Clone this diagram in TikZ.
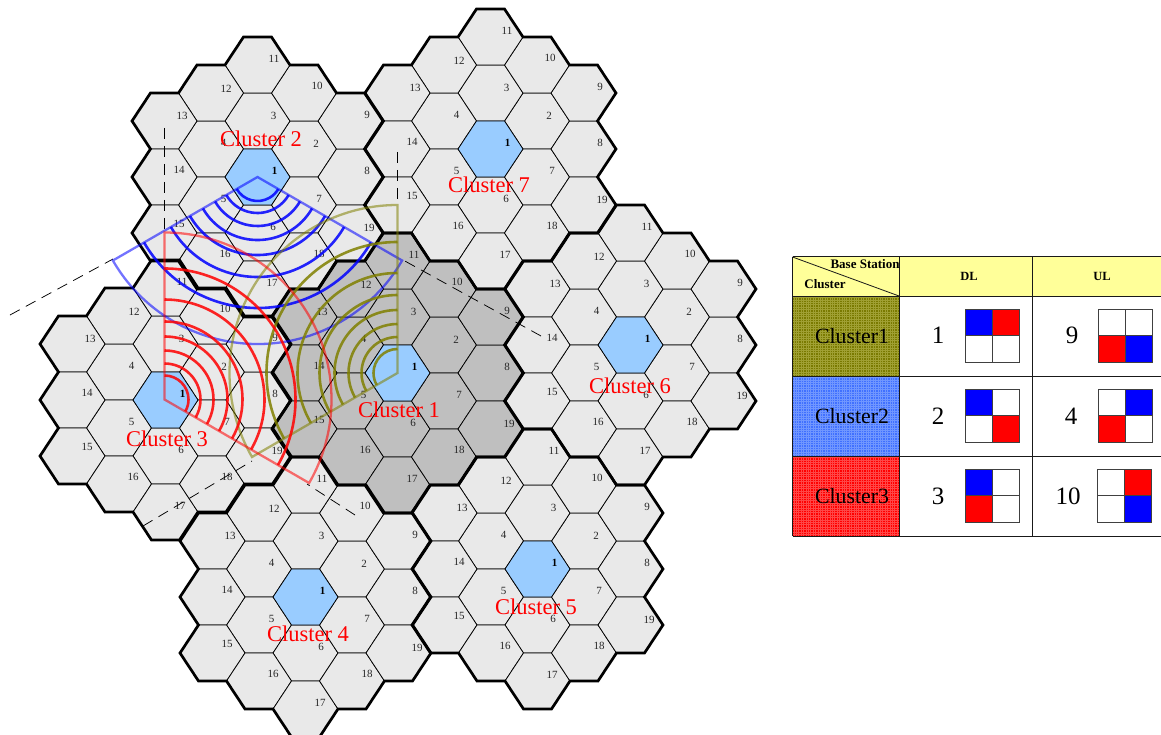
\documentclass[tikz,border=0pt]{standalone}
\usepackage{fontspec}
\setmainfont{Liberation Serif}
\definecolor{cellgray}{HTML}{E9E9E9}
\definecolor{coregray}{HTML}{BFBFBF}
\definecolor{bsblue}{HTML}{99CCFF}
\definecolor{hdryellow}{HTML}{FFFF99}
\definecolor{cOlive}{RGB}{128,128,0}
\definecolor{cBlue}{RGB}{0,0,255}
\definecolor{cRed}{RGB}{255,0,0}
\definecolor{patOlive}{RGB}{122,122,0}
\definecolor{patOliveL}{RGB}{160,160,50}
\definecolor{patBlue}{RGB}{64,112,255}
\definecolor{patBlueL}{RGB}{112,150,255}
\definecolor{patRed}{RGB}{255,0,0}
\definecolor{patRedL}{RGB}{255,70,70}
\newcommand{\hexpath}{(-32.5,0) -- (-14,-28) -- (14,-28) -- (32.5,0) -- (14,28) -- (-14,28) -- cycle}
\newcommand{\clusteroutline}{(14,-140) -- (32.5,-112) -- (60.5,-112) -- (79,-84) -- (107,-84) -- (125.5,-56) -- (107,-28) -- (125.5,0) -- (107,28) -- (125.5,56) -- (107,84) -- (79,84) -- (60.5,112) -- (32.5,112) -- (14,140) -- (-14,140) -- (-32.5,112) -- (-60.5,112) -- (-79,84) -- (-107,84) -- (-125.5,56) -- (-107,28) -- (-125.5,0) -- (-107,-28) -- (-125.5,-56) -- (-107,-84) -- (-79,-84) -- (-60.5,-112) -- (-32.5,-112) -- (-14,-140) -- cycle}
\newcommand{\sectorset}[5]{% apex, start, end, colour, outer
  \foreach \rad in {24,36,49,63,78,100,131}{
    \draw[arcline,#4] (#1) ++(#2:\rad pt) arc[start angle=#2,end angle=#3,radius=\rad pt];
  }
  \draw[sectorline,#4] (#1) -- ++(#2:#5 pt) arc[start angle=#2,end angle=#3,radius=#5 pt] -- cycle;
}
\newcommand{\tablesq}[6]{% x0 y0 colours TL TR BL BR
  \fill[#3] (#1,#2) rectangle ++(26.7,26.7);
  \fill[#4] (#1+26.7,#2) rectangle ++(26.7,26.7);
  \fill[#5] (#1,#2+26.7) rectangle ++(26.7,26.7);
  \fill[#6] (#1+26.7,#2+26.7) rectangle ++(26.7,26.7);
  \draw[sqline] (#1,#2) rectangle ++(53.4,53.4);
  \draw[sqline] (#1+26.7,#2) -- ++(0,53.4);
  \draw[sqline] (#1,#2+26.7) -- ++(53.4,0);
}
\newcommand{\gridcell}[4]{% y0 y1 base light
  \fill[#3] (792.5,#1) rectangle (899,#2);
  \foreach \gx in {794,796.4,...,898}{\draw[#4,line width=.7pt] (\gx,#1) -- (\gx,#2);}
  \pgfmathsetmacro{\ystart}{#1+1.5}
  \pgfmathsetmacro{\ynext}{#1+3.9}
  \foreach \gy in {\ystart,\ynext,...,#2}{\draw[#4,line width=.7pt] (792.5,\gy) -- (899,\gy);}
}
\tikzset{
  hexcell/.style={draw=black,line width=.75pt,line join=miter},
  clusterborder/.style={draw=black,line width=2.7pt,line join=miter},
  cellnum/.style={inner sep=0pt,font=\fontsize{11}{11}\selectfont,text=black!85},
  cellbold/.style={inner sep=0pt,font=\fontsize{11}{11}\selectfont\bfseries,text=black},
  clustername/.style={inner sep=0pt,text=red,font=\fontsize{22.5}{22.5}\selectfont},
  arcline/.style={line width=2.6pt,opacity=.85},
  sectorline/.style={line width=2.3pt,opacity=.55,line join=miter},
  dashline/.style={draw=black,line width=.75pt,dash pattern=on 11pt off 7pt},
  tabline/.style={draw=black!90,line width=1pt},
  sqline/.style={draw=black!75,line width=.8pt},
  hdrtext/.style={inner sep=0pt,font=\fontsize{13}{13}\selectfont\bfseries},
  rowname/.style={inner sep=0pt,font=\fontsize{21.8}{21.8}\selectfont,text=black},
  rownum/.style={inner sep=0pt,font=\fontsize{25}{25}\selectfont}
}
\begin{document}
\begin{tikzpicture}[x=1pt,y=-1pt]
\useasboundingbox (0,0) rectangle (1161,735);
% cells
\foreach \n/\X/\Y/\col in {2/257.5/177/cellgray,7/490.5/149/cellgray,6/630.5/345/cellgray,3/165.5/400/cellgray,1/397.5/373/coregray,5/537.5/569/cellgray,4/305.5/597/cellgray}{
  \begin{scope}[shift={(\X,\Y)}]
    \foreach \c/\r in {0/0,1/-1,0/-2,-1/-1,-1/1,0/2,1/1,2/0,2/-2,1/-3,0/-4,-1/-3,-2/-2,-2/0,-2/2,-1/3,0/4,1/3,2/2}{
      \begin{scope}[shift={({\c*46.5},{\r*28})}]
        \draw[hexcell,fill=\col] \hexpath;
      \end{scope}
    }
    \draw[hexcell,fill=bsblue] \hexpath;
  \end{scope}
}
\foreach \n/\X/\Y in {2/257.5/177,7/490.5/149,6/630.5/345,3/165.5/400,1/397.5/373,5/537.5/569,4/305.5/597}{
  \begin{scope}[shift={(\X,\Y)}]
    \draw[clusterborder] \clusteroutline;
    \node[cellbold] (num\n-1) at (17,-6) {1};
    \foreach \i/\c/\r/\lx/\ly in {2/1/-1/12/-5,3/0/-2/16/-5,4/-1/-1/12.5/-6,5/-1/1/12.5/-6,6/0/2/15.5/-6,7/1/1/15/-6,8/2/0/16.5/-6,9/2/-2/16.5/-6,10/1/-3/13/-7,11/0/-4/16.5/-6,12/-1/-3/15/-4,13/-2/-2/17.5/-5,14/-2/0/14.5/-7,15/-2/2/14.5/-9,16/-1/3/14/-7,17/0/4/14.5/-6,18/1/3/15/-7,19/2/2/18.5/-5}{
      \node[cellnum] (num\n-\i) at ({\c*46.5+\lx},{\r*28+\ly}) {\i};
    }
  \end{scope}
}
% base stations
\coordinate (bsA) at (397.5,373);
\coordinate (bsB) at (257.5,177);
\coordinate (bsC) at (164.5,399.5);
% free ends of the dashed extensions
\coordinate (bsBleft) at (113,259);
\coordinate (bsBleftEnd) at (10,315);
\coordinate (bsBright) at (403,260);
\coordinate (bsBrightEnd) at (541,336);
\coordinate (bsAup) at (397.5,205);
\coordinate (bsAupEnd) at (397.5,152);
\coordinate (bsAlow) at (252,461);
\coordinate (bsAlowEnd) at (143,526);
\coordinate (bsCup) at (164.5,232);
\coordinate (bsCupEnd) at (164.5,128);
\coordinate (bsClow) at (307,484);
\coordinate (bsClowEnd) at (355,515);
\draw[dashline] (bsBleftEnd) -- (bsBleft);
\draw[dashline] (bsBrightEnd) -- (bsBright);
\draw[dashline] (bsAupEnd) -- (bsAup);
\draw[dashline] (bsAlowEnd) -- (bsAlow);
\draw[dashline] (bsCupEnd) -- (bsCup);
\draw[dashline] (bsClowEnd) -- (bsClow);
% sectors
\sectorset{bsB}{210}{330}{cBlue}{167}
\sectorset{bsA}{90}{210}{cOlive}{168}
\sectorset{bsC}{90}{-30}{cRed}{167}
% cluster names
\node[clustername] (name1) at (399,410) {Cluster 1};
\node[clustername] (name2) at (261,139) {Cluster 2};
\node[clustername] (name3) at (167,439) {Cluster 3};
\node[clustername] (name4) at (308,634) {Cluster 4};
\node[clustername] (name5) at (536,607) {Cluster 5};
\node[clustername] (name6) at (630,386) {Cluster 6};
\node[clustername] (name7) at (489,185) {Cluster 7};
% table
\fill[hdryellow] (792.5,257) rectangle (1161,296);
\gridcell{296}{376}{patOlive}{patOliveL}
\gridcell{376}{456}{patBlue}{patBlueL}
\gridcell{456}{536}{patRed}{patRedL}
\draw[tabline] (792.5,257) -- (1161,257);
\draw[tabline] (792.5,296) -- (1161,296);
\draw[tabline] (792.5,376) -- (1161,376);
\draw[tabline] (792.5,456) -- (1161,456);
\draw[tabline] (792.5,536) -- (1161,536);
\draw[tabline] (792.5,257) -- (792.5,536);
\draw[tabline] (899,257) -- (899,536);
\draw[tabline] (1032,257) -- (1032,536);
\draw[tabline,line width=.8pt] (792.5,257) -- (899,296);
\node[hdrtext] (hbase) at (865,264) {Base Station};
\node[hdrtext] (hcluster) at (825,284) {Cluster};
\node[hdrtext,font=\fontsize{12.5}{12.5}\selectfont\bfseries] (hdl) at (969,276) {DL};
\node[hdrtext,font=\fontsize{12.5}{12.5}\selectfont\bfseries] (hul) at (1102,276) {UL};
\node[rowname] (row1) at (852,336) {Cluster1};
\node[rowname] (row2) at (852,416) {Cluster2};
\node[rowname] (row3) at (852,496) {Cluster3};
\node[rownum] (dl1) at (938,335) {1};
\node[rownum] (ul1) at (1072,335) {9};
\node[rownum] (dl2) at (938,416) {2};
\node[rownum] (ul2) at (1071,416) {4};
\node[rownum] (dl3) at (938,496) {3};
\node[rownum] (ul3) at (1068,496) {10};
\tablesq{965.5}{309}{cBlue}{cRed}{white}{white}
\tablesq{1098.5}{309}{white}{white}{cRed}{cBlue}
\tablesq{965.5}{389}{cBlue}{white}{white}{cRed}
\tablesq{1098.5}{389}{white}{cBlue}{cRed}{white}
\tablesq{965.5}{469}{cBlue}{white}{cRed}{white}
\tablesq{1097.5}{469}{white}{cRed}{white}{cBlue}
\end{tikzpicture}
\end{document}
